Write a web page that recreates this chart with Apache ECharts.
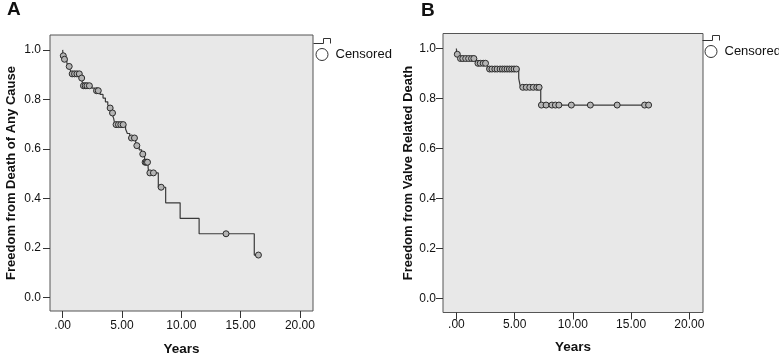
<!DOCTYPE html>
<html>
<head>
<meta charset="utf-8">
<script src="https://cdn.jsdelivr.net/npm/echarts@6/dist/echarts.min.js"></script>
<style>
  html, body { margin: 0; padding: 0; background: #fff; }
  #main { width: 779px; height: 357px; }
</style>
</head>
<body>
<div id="main"></div>
<script>
// tick labels
const xTicks = [0, 5, 10, 15, 20];
const yTicks = [0, 0.2, 0.4, 0.6, 0.8, 1.0];

// Panel A - freedom from death of any cause (KM steps: time, survival after the step)
const aStepTimes = [0, 0.02, 0.12, 0.35, 0.5, 0.65, 0.75, 1.55, 1.65, 1.72, 2.45, 2.7, 3.15, 3.4, 3.6, 3.8, 3.95, 4.15, 4.3, 4.4, 5.3, 5.45, 5.65, 6.15, 6.2, 6.45, 6.65, 6.9, 6.95, 7.2, 7.25, 8.06, 8.68, 9.9, 11.5, 16.15, 16.5];
const aStepSurv = [1.0, 0.976, 0.962, 0.947, 0.933, 0.918, 0.903, 0.886, 0.870, 0.855, 0.845, 0.835, 0.82, 0.805, 0.79, 0.778, 0.765, 0.745, 0.722, 0.698, 0.68, 0.662, 0.644, 0.629, 0.613, 0.596, 0.579, 0.562, 0.546, 0.525, 0.503, 0.445, 0.382, 0.319, 0.257, 0.171, 0.171];
const aCensTimes = [0.05, 0.15, 0.55, 0.8, 1.0, 1.2, 1.4, 1.6, 1.75, 1.9, 2.05, 2.25, 2.85, 3.0, 4.0, 4.2, 4.5, 4.7, 4.9, 5.1, 5.8, 6.05, 6.25, 6.75, 6.95, 7.05, 7.15, 7.35, 7.65, 8.3, 13.77, 16.5];
const aCensSurv = [0.976, 0.962, 0.933, 0.903, 0.903, 0.903, 0.903, 0.886, 0.855, 0.855, 0.855, 0.855, 0.835, 0.835, 0.765, 0.745, 0.698, 0.698, 0.698, 0.698, 0.644, 0.644, 0.613, 0.579, 0.546, 0.546, 0.546, 0.503, 0.503, 0.445, 0.257, 0.171];

// Panel B - freedom from valve related death
const bStepTimes = [0, 0.03, 0.2, 1.7, 2.65, 5.35, 5.5, 7.24, 16.5];
const bStepSurv = [1.0, 0.977, 0.960, 0.941, 0.918, 0.881, 0.845, 0.774, 0.774];
const bCensTimes = [0.08, 0.35, 0.55, 0.8, 1.05, 1.3, 1.5, 1.85, 2.05, 2.3, 2.5, 2.85, 3.05, 3.3, 3.5, 3.75, 3.95, 4.15, 4.35, 4.55, 4.75, 4.95, 5.15, 5.7, 6.0, 6.3, 6.6, 6.9, 7.1, 7.3, 7.7, 8.2, 8.5, 8.8, 9.87, 11.5, 13.8, 16.16, 16.5];
const bCensSurv = [0.977, 0.960, 0.960, 0.960, 0.960, 0.960, 0.960, 0.941, 0.941, 0.941, 0.941, 0.918, 0.918, 0.918, 0.918, 0.918, 0.918, 0.918, 0.918, 0.918, 0.918, 0.918, 0.918, 0.845, 0.845, 0.845, 0.845, 0.845, 0.845, 0.774, 0.774, 0.774, 0.774, 0.774, 0.774, 0.774, 0.774, 0.774, 0.774];

function zip(xs, ys) {
  return xs.map((x, i) => [x, ys[i]]);
}

const font = 'Liberation Sans, Arial, sans-serif';
const stepIcon = 'path://M0,5L10,5L10,0L17,0L17,5';

function xAxisFor(idx, min, max, margin, gap) {
  return {
    gridIndex: idx, type: 'value', min: min, max: max,
    splitLine: {show: false},
    axisLine: {show: false, onZero: false},
    axisTick: {show: true, length: 7, customValues: xTicks, lineStyle: {color: '#333'}},
    axisLabel: {
      customValues: xTicks, margin: margin, fontSize: 12, color: '#111', fontFamily: font,
      formatter: (v) => v === 0 ? '.00' : v.toFixed(2)
    },
    name: 'Years', nameLocation: 'middle', nameGap: gap,
    nameTextStyle: {fontSize: 13.5, fontWeight: 'bold', color: '#111', fontFamily: font}
  };
}

function yAxisFor(idx, name, margin, gap) {
  return {
    gridIndex: idx, type: 'value', min: -0.055, max: 1.06,
    splitLine: {show: false},
    axisLine: {show: false, onZero: false},
    axisTick: {show: true, length: 7, customValues: yTicks, lineStyle: {color: '#333'}},
    axisLabel: {
      customValues: yTicks, margin: margin, fontSize: 12, color: '#111', fontFamily: font,
      formatter: (v) => v.toFixed(1)
    },
    name: name, nameLocation: 'middle', nameGap: gap,
    nameTextStyle: {fontSize: 13, fontWeight: 'bold', color: '#111', fontFamily: font}
  };
}

function legendFor(left, top, kmName) {
  return {
    orient: 'vertical', left: left, top: top, padding: 0,
    itemWidth: 17, itemHeight: 12, itemGap: 4,
    selectedMode: false,
    textStyle: {fontSize: 13, color: '#111', fontFamily: font},
    formatter: (name) => name === 'Censored' ? name : '',
    data: [
      {name: kmName, icon: stepIcon, itemStyle: {color: 'transparent', borderColor: '#333', borderWidth: 1}},
      {name: 'Censored', icon: 'circle', itemStyle: {color: '#fff', borderColor: '#333', borderWidth: 1}}
    ]
  };
}

function kmSeries(name, idx, data) {
  return {
    name: name, type: 'line', step: 'end', xAxisIndex: idx, yAxisIndex: idx,
    data: data, symbol: 'none', silent: true, z: 2,
    lineStyle: {color: '#3a3a3a', width: 1.2},
    itemStyle: {color: '#3a3a3a'}
  };
}

function censSeries(idx, data) {
  return {
    name: 'Censored', type: 'scatter', xAxisIndex: idx, yAxisIndex: idx,
    data: data, symbol: 'circle', symbolSize: 6, silent: true, z: 3,
    itemStyle: {color: '#b4b4b4', borderColor: '#2a2a2a', borderWidth: 1, opacity: 1}
  };
}

const chart = echarts.init(document.getElementById('main'));
chart.setOption({
  animation: false,
  backgroundColor: '#fff',
  title: [
    {text: 'A', left: 7, top: 0, padding: 0, textStyle: {fontSize: 19, fontWeight: 'bold', color: '#111', fontFamily: font}},
    {text: 'B', left: 421, top: 1, padding: 0, textStyle: {fontSize: 19, fontWeight: 'bold', color: '#111', fontFamily: font}}
  ],
  grid: [
    {left: 50, top: 35, width: 263, height: 276, show: true, outerBoundsMode: 'none', containLabel: false,
      backgroundColor: '#e8e8e8', borderColor: '#555', borderWidth: 1},
    {left: 443, top: 33.5, width: 260, height: 279, show: true, outerBoundsMode: 'none', containLabel: false,
      backgroundColor: '#e8e8e8', borderColor: '#555', borderWidth: 1}
  ],
  xAxis: [
    xAxisFor(0, -1.07, 21.1, 8.5, 31),
    xAxisFor(1, -1.15, 21.17, 6.5, 28)
  ],
  yAxis: [
    yAxisFor(0, 'Freedom from Death of Any Cause', 9, 32),
    yAxisFor(1, 'Freedom from Valve Related Death', 7, 28)
  ],
  legend: [
    legendFor(313, 35, 'Survival A'),
    legendFor(702, 32, 'Survival B')
  ],
  series: [
    kmSeries('Survival A', 0, zip(aStepTimes, aStepSurv)),
    censSeries(0, zip(aCensTimes, aCensSurv)),
    kmSeries('Survival B', 1, zip(bStepTimes, bStepSurv)),
    censSeries(1, zip(bCensTimes, bCensSurv))
  ]
});
</script>
</body>
</html>
